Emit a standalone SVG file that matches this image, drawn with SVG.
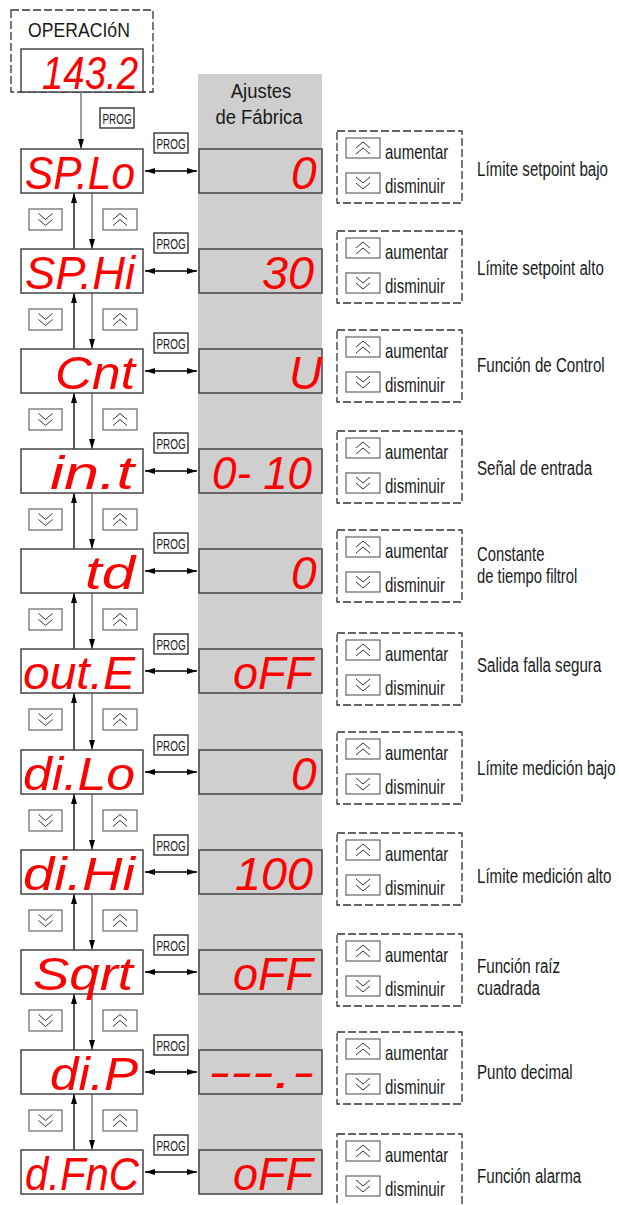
<svg xmlns="http://www.w3.org/2000/svg" xmlns:xlink="http://www.w3.org/1999/xlink" width="619" height="1205" viewBox="0 0 619 1205">
<style>
.t{font-family:"Liberation Sans",Arial,sans-serif;fill:#1a1a1a}
.lbl{font-size:21px}
.btxt{font-size:20px}
.pg{font-size:15.5px}
.seg{font-family:"Liberation Sans",Arial,sans-serif;font-style:italic;font-size:46px;fill:#ff0000}
.disp{fill:#fff;stroke:#444;stroke-width:1.5}
.val{fill:#cfcfcf;stroke:#444;stroke-width:1.5}
.btn{fill:#fff;stroke:#666;stroke-width:1.2}
.prog{fill:#fff;stroke:#222;stroke-width:1.3}
.dash{fill:none;stroke:#333;stroke-width:1.3;stroke-dasharray:8 3}
.chev{fill:none;stroke:#333;stroke-width:1}
.up{stroke:#000;stroke-width:1.3;marker-end:url(#ah)}
.dn{stroke:#666;stroke-width:1.3;marker-end:url(#ah)}
.hz{stroke:#000;stroke-width:1.3;marker-start:url(#ah);marker-end:url(#ah)}
</style>
<defs>
<marker id="ah" viewBox="0 0 10 6" refX="10" refY="3" markerWidth="10" markerHeight="6" markerUnits="userSpaceOnUse" orient="auto-start-reverse"><path d="M0,0 L10,3 L0,6 z" fill="#000"/></marker>
<g id="cu"><polyline class="chev" points="-7,0 0,-6 7,0"/><polyline class="chev" points="-7,6 0,0 7,6"/></g>
<g id="cd"><polyline class="chev" points="-7,-6 0,0 7,-6"/><polyline class="chev" points="-7,0 0,6 7,0"/></g>
<g id="progbtn"><rect class="prog" x="0" y="0" width="34" height="20"/><text class="t pg" transform="translate(2.5,16) scale(0.64,1)">PROG</text></g>
<g id="panel"><rect class="dash" x="337" y="0" width="125" height="72"/><rect class="btn" x="346" y="7" width="34" height="20"/><use xlink:href="#cu" x="363" y="17"/><text class="t btxt" transform="translate(385,28) scale(0.75,1)">aumentar</text><rect class="btn" x="346" y="42" width="34" height="20"/><use xlink:href="#cd" x="363" y="52"/><text class="t btxt" transform="translate(385,62) scale(0.75,1)">disminuir</text></g>
<g id="navbtns"><rect class="btn" x="29" y="0" width="33" height="21"/><use xlink:href="#cd" x="45.5" y="10.5"/><rect class="btn" x="103" y="0" width="34" height="21"/><use xlink:href="#cu" x="120" y="10.5"/></g>
</defs>
<rect id="column" x="198" y="74" width="124" height="1120" fill="#cfcfcf"/>
<g id="header">
<text class="t" transform="translate(261,98) scale(0.88,1)" text-anchor="middle" font-size="21">Ajustes</text>
<text class="t" transform="translate(259,124) scale(0.88,1)" text-anchor="middle" font-size="21">de Fábrica</text>
</g>
<g id="operacion">
<rect class="dash" x="11" y="10" width="142" height="82"/>
<text class="t" transform="translate(28,37) scale(0.84,1)" font-size="21">OPERACIóN</text>
<rect class="disp" x="21" y="49" width="122" height="43"/>
<text class="seg" x="42" y="89" textLength="96" lengthAdjust="spacingAndGlyphs">143.2</text>
<use xlink:href="#progbtn" x="100" y="108"/>
</g>
<g id="connectors">
<line class="dn" x1="81" y1="92" x2="81" y2="149"/>
<line class="hz" x1="145" y1="171" x2="197" y2="171"/>
<line class="hz" x1="145" y1="271" x2="197" y2="271"/>
<line class="hz" x1="145" y1="371" x2="197" y2="371"/>
<line class="hz" x1="145" y1="471" x2="197" y2="471"/>
<line class="hz" x1="145" y1="571" x2="197" y2="571"/>
<line class="hz" x1="145" y1="671" x2="197" y2="671"/>
<line class="hz" x1="145" y1="772" x2="197" y2="772"/>
<line class="hz" x1="145" y1="872" x2="197" y2="872"/>
<line class="hz" x1="145" y1="972" x2="197" y2="972"/>
<line class="hz" x1="145" y1="1072" x2="197" y2="1072"/>
<line class="hz" x1="145" y1="1172" x2="197" y2="1172"/>
<line class="up" x1="74" y1="249" x2="74" y2="193"/><line class="dn" x1="92" y1="193" x2="92" y2="249"/>
<line class="up" x1="74" y1="349" x2="74" y2="293"/><line class="dn" x1="92" y1="293" x2="92" y2="349"/>
<line class="up" x1="74" y1="449" x2="74" y2="393"/><line class="dn" x1="92" y1="393" x2="92" y2="449"/>
<line class="up" x1="74" y1="549" x2="74" y2="493"/><line class="dn" x1="92" y1="493" x2="92" y2="549"/>
<line class="up" x1="74" y1="649" x2="74" y2="593"/><line class="dn" x1="92" y1="593" x2="92" y2="649"/>
<line class="up" x1="74" y1="750" x2="74" y2="693"/><line class="dn" x1="92" y1="693" x2="92" y2="750"/>
<line class="up" x1="74" y1="850" x2="74" y2="794"/><line class="dn" x1="92" y1="794" x2="92" y2="850"/>
<line class="up" x1="74" y1="950" x2="74" y2="894"/><line class="dn" x1="92" y1="894" x2="92" y2="950"/>
<line class="up" x1="74" y1="1050" x2="74" y2="994"/><line class="dn" x1="92" y1="994" x2="92" y2="1050"/>
<line class="up" x1="74" y1="1150" x2="74" y2="1094"/><line class="dn" x1="92" y1="1094" x2="92" y2="1150"/>
</g>
<g id="row-splo">
<rect class="disp" x="21" y="149" width="122" height="44"/><text class="seg" x="25" y="189" textLength="110" lengthAdjust="spacingAndGlyphs">SP.Lo</text>
<rect class="val" x="199" y="149" width="123" height="44"/><text class="seg" x="291" y="189">0</text>
<use xlink:href="#progbtn" x="154" y="133"/>
<use xlink:href="#navbtns" x="0" y="209"/>
<use xlink:href="#panel" x="0" y="131"/>
<text class="t lbl" transform="translate(477,176) scale(0.72,1)">Límite setpoint bajo</text>
</g>
<g id="row-sphi">
<rect class="disp" x="21" y="249" width="122" height="44"/><text class="seg" x="25" y="289" textLength="110" lengthAdjust="spacingAndGlyphs">SP.Hi</text>
<rect class="val" x="199" y="249" width="123" height="44"/><text class="seg" x="262" y="289" textLength="52" lengthAdjust="spacingAndGlyphs">30</text>
<use xlink:href="#progbtn" x="154" y="233"/>
<use xlink:href="#navbtns" x="0" y="309"/>
<use xlink:href="#panel" x="0" y="231"/>
<text class="t lbl" transform="translate(477,275) scale(0.72,1)">Límite setpoint alto</text>
</g>
<g id="row-cnt">
<rect class="disp" x="21" y="349" width="122" height="44"/><text class="seg" x="55" y="389" textLength="80" lengthAdjust="spacingAndGlyphs">Cnt</text>
<rect class="val" x="199" y="349" width="123" height="44"/><text class="seg" x="289" y="389">U</text>
<use xlink:href="#progbtn" x="154" y="333"/>
<use xlink:href="#navbtns" x="0" y="409"/>
<use xlink:href="#panel" x="0" y="330"/>
<text class="t lbl" transform="translate(477,372) scale(0.72,1)">Función de Control</text>
</g>
<g id="row-int">
<rect class="disp" x="21" y="449" width="122" height="44"/><text class="seg" x="50" y="489" textLength="84" lengthAdjust="spacingAndGlyphs">in.t</text>
<rect class="val" x="199" y="449" width="123" height="44"/><text class="seg" x="212" y="489" textLength="100" lengthAdjust="spacingAndGlyphs">0- 10</text>
<use xlink:href="#progbtn" x="154" y="433"/>
<use xlink:href="#navbtns" x="0" y="509"/>
<use xlink:href="#panel" x="0" y="431"/>
<text class="t lbl" transform="translate(477,475) scale(0.72,1)">Señal de entrada</text>
</g>
<g id="row-td">
<rect class="disp" x="21" y="549" width="122" height="44"/><text class="seg" x="85" y="589" textLength="50" lengthAdjust="spacingAndGlyphs">td</text>
<rect class="val" x="199" y="549" width="123" height="44"/><text class="seg" x="291" y="589">0</text>
<use xlink:href="#progbtn" x="154" y="533"/>
<use xlink:href="#navbtns" x="0" y="609"/>
<use xlink:href="#panel" x="0" y="530"/>
<text class="t" font-size="20" transform="translate(477,561) scale(0.74,1)">Constante</text>
<text class="t" font-size="20" transform="translate(477,583) scale(0.74,1)">de tiempo filtrol</text>
</g>
<g id="row-oute">
<rect class="disp" x="21" y="649" width="122" height="44"/><text class="seg" x="23" y="689" textLength="112" lengthAdjust="spacingAndGlyphs">out.E</text>
<rect class="val" x="199" y="649" width="123" height="44"/><text class="seg" x="233" y="689" textLength="80" lengthAdjust="spacingAndGlyphs">oFF</text>
<use xlink:href="#progbtn" x="154" y="634"/>
<use xlink:href="#navbtns" x="0" y="709"/>
<use xlink:href="#panel" x="0" y="633"/>
<text class="t lbl" transform="translate(477,672) scale(0.72,1)">Salida falla segura</text>
</g>
<g id="row-dilo">
<rect class="disp" x="21" y="750" width="122" height="44"/><text class="seg" x="23" y="790" textLength="112" lengthAdjust="spacingAndGlyphs">di.Lo</text>
<rect class="val" x="199" y="750" width="123" height="44"/><text class="seg" x="291" y="790">0</text>
<use xlink:href="#progbtn" x="154" y="735"/>
<use xlink:href="#navbtns" x="0" y="810"/>
<use xlink:href="#panel" x="0" y="732"/>
<text class="t lbl" transform="translate(477,775) scale(0.72,1)">Límite medición bajo</text>
</g>
<g id="row-dihi">
<rect class="disp" x="21" y="850" width="122" height="44"/><text class="seg" x="23" y="890" textLength="112" lengthAdjust="spacingAndGlyphs">di.Hi</text>
<rect class="val" x="199" y="850" width="123" height="44"/><text class="seg" x="235" y="890" textLength="78" lengthAdjust="spacingAndGlyphs">100</text>
<use xlink:href="#progbtn" x="154" y="835"/>
<use xlink:href="#navbtns" x="0" y="910"/>
<use xlink:href="#panel" x="0" y="833"/>
<text class="t lbl" transform="translate(477,883) scale(0.72,1)">Límite medición alto</text>
</g>
<g id="row-sqrt">
<rect class="disp" x="21" y="950" width="122" height="44"/><text class="seg" x="33" y="990" textLength="100" lengthAdjust="spacingAndGlyphs">Sqrt</text>
<rect class="val" x="199" y="950" width="123" height="44"/><text class="seg" x="233" y="990" textLength="80" lengthAdjust="spacingAndGlyphs">oFF</text>
<use xlink:href="#progbtn" x="154" y="935"/>
<use xlink:href="#navbtns" x="0" y="1010"/>
<use xlink:href="#panel" x="0" y="934"/>
<text class="t lbl" transform="translate(477,973) scale(0.72,1)">Función raíz</text>
<text class="t lbl" transform="translate(477,995) scale(0.72,1)">cuadrada</text>
</g>
<g id="row-dip">
<rect class="disp" x="21" y="1050" width="122" height="44"/><text class="seg" x="50" y="1090" textLength="88" lengthAdjust="spacingAndGlyphs">di.P</text>
<rect class="val" x="199" y="1050" width="123" height="44"/><text class="seg" x="208" y="1088" textLength="106" lengthAdjust="spacingAndGlyphs">---.-</text>
<use xlink:href="#progbtn" x="154" y="1035"/>
<use xlink:href="#navbtns" x="0" y="1110"/>
<use xlink:href="#panel" x="0" y="1032"/>
<text class="t lbl" transform="translate(477,1079) scale(0.72,1)">Punto decimal</text>
</g>
<g id="row-dfnc">
<rect class="disp" x="21" y="1150" width="122" height="44"/><text class="seg" x="25" y="1190" textLength="114" lengthAdjust="spacingAndGlyphs">d.FnC</text>
<rect class="val" x="199" y="1150" width="123" height="44"/><text class="seg" x="233" y="1190" textLength="80" lengthAdjust="spacingAndGlyphs">oFF</text>
<use xlink:href="#progbtn" x="154" y="1135"/>
<rect class="dash" x="337" y="1134" width="125" height="80"/>
<rect class="btn" x="346" y="1141" width="34" height="20"/><use xlink:href="#cu" x="363" y="1151"/><text class="t btxt" transform="translate(385,1162) scale(0.75,1)">aumentar</text>
<rect class="btn" x="346" y="1176" width="34" height="20"/><use xlink:href="#cd" x="363" y="1186"/><text class="t btxt" transform="translate(385,1196) scale(0.75,1)">disminuir</text>
<text class="t lbl" transform="translate(477,1183) scale(0.72,1)">Función alarma</text>
</g>
</svg>
